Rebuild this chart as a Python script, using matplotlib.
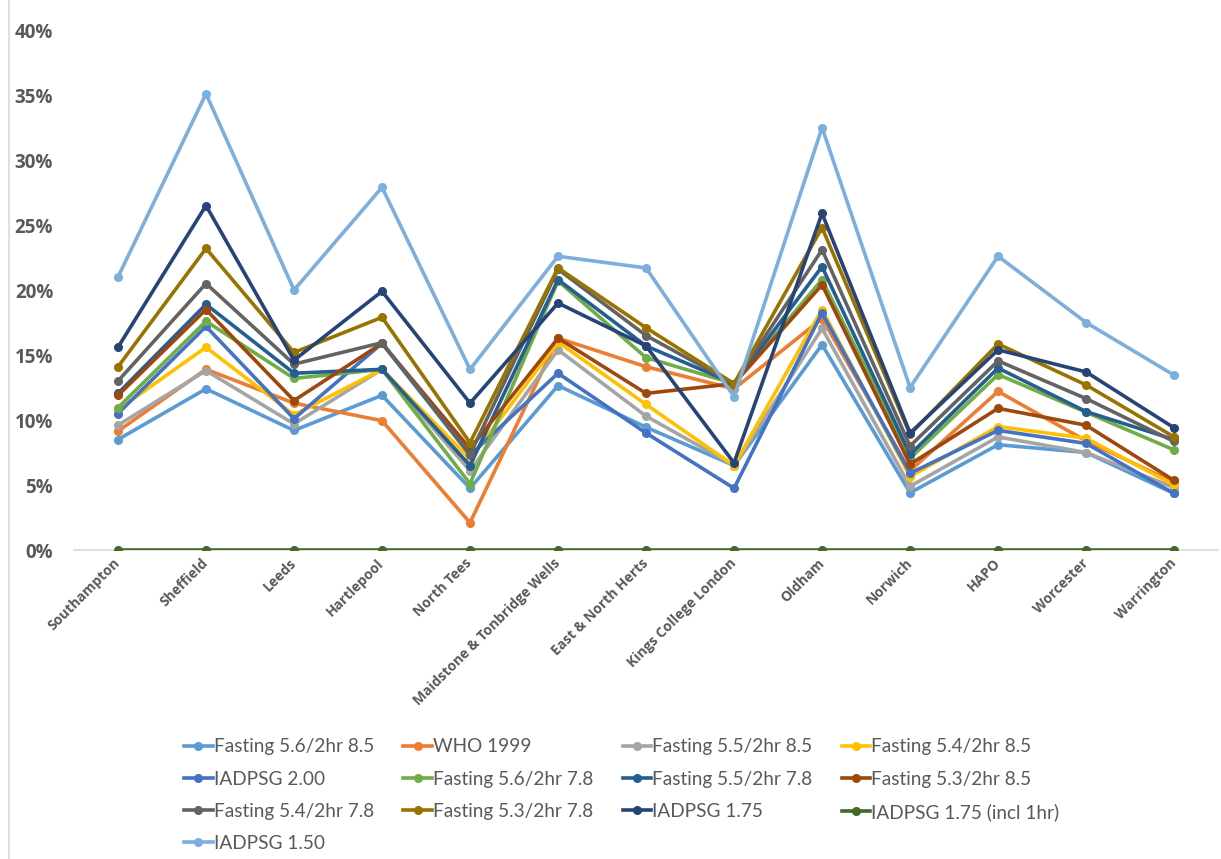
import matplotlib.pyplot as plt
from matplotlib.lines import Line2D
from matplotlib.ticker import MultipleLocator, PercentFormatter

sites = ['Southampton', 'Sheffield', 'Leeds', 'Hartlepool', 'North Tees',
         'Maidstone & Tonbridge Wells', 'East & North Herts', 'Kings College London',
         'Oldham', 'Norwich', 'HAPO', 'Worcester', 'Warrington']

# prevalence (%) per site for each diagnostic criterion
f56_85 = [8.5, 12.4, 9.2, 11.9, 4.75, 12.65, 9.45, 6.5, 15.8, 4.4, 8.1, 7.5, 4.35]
who_1999 = [9.15, 13.9, 11.3, 9.95, 2.1, 16.3, 14.1, 12.4, 17.8, 6.1, 12.2, 8.4, 5.2]
f55_85 = [9.6, 13.8, 9.7, 13.9, 6.1, 15.4, 10.3, 6.5, 17.05, 4.9, 8.7, 7.5, 4.8]
f54_85 = [10.8, 15.6, 10.4, 13.9, 7.0, 16.0, 11.2, 6.5, 18.5, 5.65, 9.5, 8.6, 5.0]
iad_200 = [10.5, 17.2, 10.1, 15.9, 7.3, 13.6, 9.0, 4.75, 18.25, 5.9, 9.2, 8.2, 4.35]
f56_78 = [10.95, 17.6, 13.2, 13.9, 5.1, 20.7, 14.8, 12.8, 20.8, 7.05, 13.5, 10.6, 7.7]
f55_78 = [12.05, 18.9, 13.6, 13.9, 6.5, 20.8, 15.7, 12.8, 21.8, 7.35, 14.0, 10.65, 8.5]
f53_85 = [11.9, 18.5, 11.5, 15.9, 7.8, 16.3, 12.05, 12.8, 20.4, 6.6, 10.9, 9.6, 5.35]
f54_78 = [13.0, 20.5, 14.3, 15.95, 7.35, 21.6, 16.5, 12.8, 23.1, 8.0, 14.55, 11.65, 8.35]
f53_78 = [14.1, 23.2, 15.2, 17.9, 8.25, 21.7, 17.1, 12.8, 24.8, 8.9, 15.85, 12.7, 8.7]
iad_175 = [15.6, 26.5, 14.6, 19.9, 11.3, 19.0, 15.7, 6.7, 25.9, 9.0, 15.4, 13.7, 9.4]
iad_175_1hr = [0, 0, 0, 0, 0, 0, 0, 0, 0, 0, 0, 0, 0]
iad_150 = [21.0, 35.1, 20.0, 27.9, 13.9, 22.6, 21.7, 11.8, 32.5, 12.5, 22.6, 17.5, 13.45]

series = [
    ('Fasting 5.6/2hr 8.5', f56_85, '#5B9BD5'),
    ('WHO 1999', who_1999, '#ED7D31'),
    ('Fasting 5.5/2hr 8.5', f55_85, '#A5A5A5'),
    ('Fasting 5.4/2hr 8.5', f54_85, '#FFC000'),
    ('IADPSG 2.00', iad_200, '#4472C4'),
    ('Fasting 5.6/2hr 7.8', f56_78, '#70AD47'),
    ('Fasting 5.5/2hr 7.8', f55_78, '#255E91'),
    ('Fasting 5.3/2hr 8.5', f53_85, '#9E480E'),
    ('Fasting 5.4/2hr 7.8', f54_78, '#636363'),
    ('Fasting 5.3/2hr 7.8', f53_78, '#997300'),
    ('IADPSG 1.75', iad_175, '#264478'),
    ('IADPSG 1.75 (incl 1hr)', iad_175_1hr, '#43682B'),
    ('IADPSG 1.50', iad_150, '#7CAFDD'),
]

fig = plt.figure(figsize=(12.21, 8.59), dpi=100)
ax = fig.add_axes([0.0606, 0.3597, 0.937, 0.6053])

x = list(range(len(sites)))
handles = []
for label, vals, col in series:
    h, = ax.plot(x, vals, color=col, lw=2.6, marker='o', ms=5.5, label=label)
    handles.append(h)

ax.set_xlim(-0.5, len(sites) - 0.5)
ax.set_ylim(0, 40)
ax.yaxis.set_major_locator(MultipleLocator(5))
ax.yaxis.set_major_formatter(PercentFormatter(decimals=0))

for s in ['top', 'right', 'left']:
    ax.spines[s].set_visible(False)
ax.spines['bottom'].set_color('#D9D9D9')
ax.spines['bottom'].set_linewidth(1.2)
ax.spines['bottom'].set_zorder(0)

ax.tick_params(axis='both', length=0)
ax.tick_params(axis='y', pad=15)
ax.tick_params(axis='x', pad=8)
for t in ax.get_yticklabels():
    t.set_fontfamily('Open Sans')
    t.set_fontweight('bold')
    t.set_fontsize(13.5)
    t.set_color('#595959')

ax.set_xticks(x)
ax.set_xticklabels(sites, rotation=45, ha='right', va='center', rotation_mode='anchor',
                   fontfamily='Open Sans', fontweight='bold', fontsize=10, color='#595959')

# legend laid out row by row, four entries per row
order = [0, 4, 8, 12, 1, 5, 9, 2, 6, 10, 3, 7, 11]
leg = fig.legend([handles[i] for i in order], [series[i][0] for i in order],
                 loc='upper left', bbox_to_anchor=(0.143, 0.1515), ncol=4,
                 frameon=False, handlelength=1.5, handletextpad=0.05,
                 columnspacing=1.55, labelspacing=0.8, borderpad=0,
                 prop={'family': 'Lato', 'size': 13.7})
for t in leg.get_texts():
    t.set_color('#595959')

# thin chart border on the left
fig.add_artist(Line2D([0.0075, 0.0075], [0, 1], color='#D9D9D9', lw=1.2))

fig.savefig('out.png', dpi=100, facecolor='white')
